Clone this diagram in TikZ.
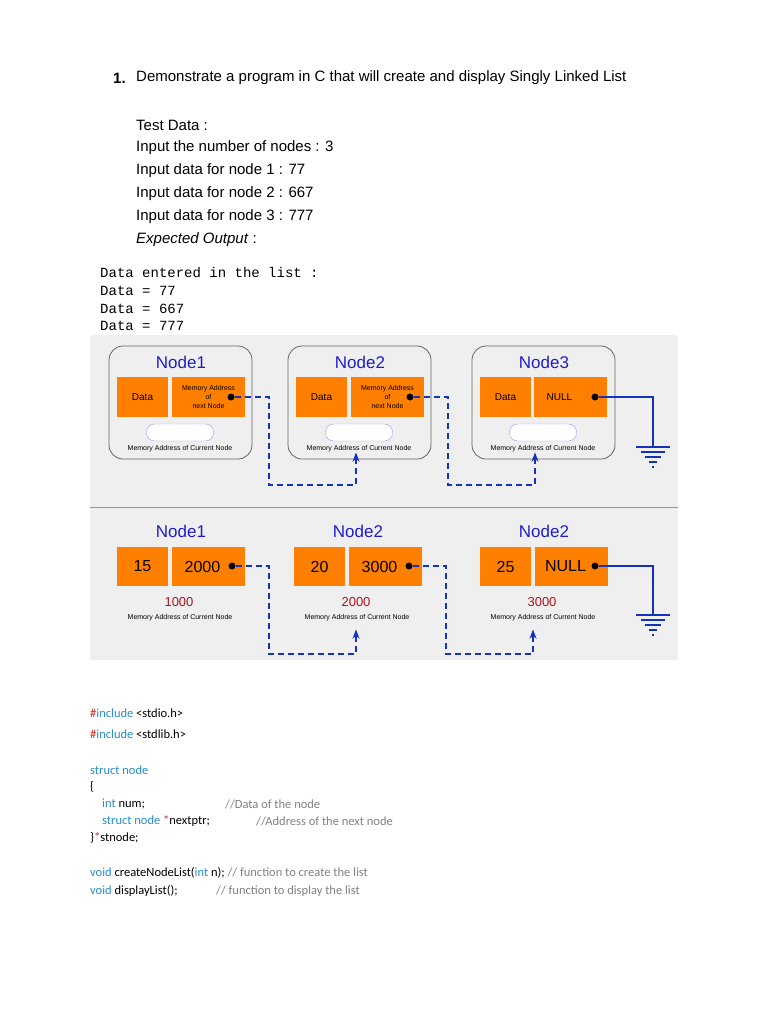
\documentclass[tikz,border=0pt]{standalone}
\usepackage{fontspec}
\setmainfont{Liberation Sans}
\newfontfamily\codefont{Carlito}
\newfontfamily\monofont{Liberation Mono}
\usetikzlibrary{arrows.meta}
\definecolor{cellorange}{RGB}{255,128,0}
\definecolor{nodeblue}{RGB}{30,30,200}
\definecolor{linkblue}{RGB}{20,50,190}
\definecolor{addrred}{RGB}{170,20,30}
\definecolor{kwblue}{RGB}{40,140,200}
\definecolor{cmtgray}{RGB}{130,130,130}
\definecolor{hashred}{RGB}{210,40,40}
\definecolor{panelgray}{RGB}{240,239,239}
\newcommand{\kw}[1]{\textcolor{kwblue}{#1}}
\newcommand{\cmt}[1]{\textcolor{cmtgray}{#1}}
\begin{document}
\begin{tikzpicture}
        [
            x=1pt, y=-1pt, >=Stealth,
            line/.style = {anchor=west, inner sep=0pt, font=\fontsize{15}{18}\selectfont},
            mono/.style = {anchor=west, inner sep=0pt, font=\monofont\fontsize{14}{16}\selectfont},
            code/.style = {anchor=west, inner sep=0pt, font=\codefont\fontsize{12.5}{14}\selectfont},
            frame/.style = {draw=gray!80!black, rounded corners=14pt, line width=0.8pt},
            title/.style = {text=nodeblue, font=\fontsize{17}{20}\selectfont, inner sep=0pt},
            cell/.style = {fill=cellorange, inner sep=0pt, align=center},
            pill/.style = {draw=blue!40, fill=white, rounded corners=8pt, minimum width=67pt, minimum height=17pt},
            caption/.style = {font=\fontsize{7}{8}\selectfont, inner sep=0pt},
            dot/.style = {circle, fill=black, inner sep=0pt, minimum size=7pt},
            link/.style = {draw=linkblue, dashed, dash pattern=on 6pt off 4pt, line width=1.4pt},
            nullwire/.style = {draw=linkblue, line width=1.4pt}
        ]
        \useasboundingbox (0,0) rectangle (768,1024);
        \fill[white] (0,0) rectangle (768,1024);
        % task text
        \node[line, font=\bfseries\fontsize{15}{18}\selectfont] (num) at (113,78) {1.};
        \node[line] (task) at (136,78) {Demonstrate a program in C that will create and display Singly Linked List};
        \node[line] (test) at (136,125) {Test Data :};
        \node[line] (in0) at (136,148) {Input the number of nodes : 3};
        \node[line] (in1) at (136,171) {Input data for node 1 : 77};
        \node[line] (in2) at (136,194) {Input data for node 2 : 667};
        \node[line] (in3) at (136,217) {Input data for node 3 : 777};
        \node[line] (exp) at (136,240) {\textit{Expected Output} :};
        \node[mono] (out0) at (100,273) {Data entered in the list :};
        \node[mono] (out1) at (100,291) {Data = 77};
        \node[mono] (out2) at (100,309) {Data = 667};
        \node[mono] (out3) at (100,326) {Data = 777};
        % panel
        \fill[panelgray] (90,335) rectangle (678,660);
        \draw[red!60, line width=0.6pt] (90,507) -- (678,507);
        % upper row
        \foreach \i/\x/\t in {1/181/Node1, 2/360/Node2, 3/544/Node3} {
            \draw[frame] (\x-72,346) rectangle (\x+71,459);
            \node[title] (t\i) at (\x,362) {\t};
            \node[cell, minimum width=51pt, minimum height=40pt, font=\fontsize{10}{12}\selectfont] (d\i) at (\x-38.5,397) {Data};
            \node[pill] (p\i) at (\x-1,432.5) {};
            \node[caption] (m\i) at (\x-1,449) {Memory Address of Current Node};
        }
        \foreach \i/\x in {1/181, 2/360} {
            \node[cell, minimum width=73pt, minimum height=40pt, font=\fontsize{7}{9}\selectfont] (a\i) at (\x+27.5,397) {Memory Address\\of\\next Node};
            \node[dot] (k\i) at (\x+50,397) {};
        }
        \node[cell, minimum width=73pt, minimum height=40pt, font=\fontsize{10}{12}\selectfont] (a3) at (570.5,397) {NULL\hspace{22pt}};
        \node[dot] (k3) at (595,397) {};
        \coordinate (g1) at (653,447);
        \draw[link, ->] (k1) -| (269,485) -| (m2.south -| 356,0);
        \draw[link, ->] (k2) -| (448,485) -| (m3.south -| 535,0);
        \draw[nullwire] (k3) -| (g1);
        \foreach \j/\w in {0/17,1/12,2/8,3/4,4/1}
            \draw[linkblue, line width=1.2pt] ([xshift=-\w pt, yshift=-5*\j pt]g1) -- ([xshift=\w pt, yshift=-5*\j pt]g1);
        % lower row
        \foreach \i/\x/\t/\v/\p/\r in {4/181/Node1/15/2000/1000, 5/358/Node2/20/3000/2000, 6/544/Node2/25/NULL/3000} {
            \node[title] (t\i) at (\x,531) {\t};
            \node[cell, minimum width=51pt, minimum height=39pt, font=\fontsize{16}{18}\selectfont] (d\i) at (\x-38.5,566.5) {\v};
            \node[cell, minimum width=73pt, minimum height=39pt, font=\fontsize{16}{18}\selectfont] (a\i) at (\x+27.5,566.5) {\p\hspace{12pt}};
            \node[dot] (k\i) at (\x+51,566) {};
            \node[font=\fontsize{13}{15}\selectfont, text=addrred, inner sep=0pt] (r\i) at (\x-2,602) {\r};
            \node[caption] (m\i) at (\x-1,618) {Memory Address of Current Node};
        }
        \coordinate (g2) at (653,615);
        \draw[link, ->] (k4) -| (269,654) -| ([yshift=-8pt]m5.south -| 356,0);
        \draw[link, ->] (k5) -| (446,654) -| ([yshift=-8pt]m6.south -| 533,0);
        \draw[nullwire] (k6) -| (g2);
        \foreach \j/\w in {0/17,1/12,2/8,3/4,4/1}
            \draw[linkblue, line width=1.2pt] ([xshift=-\w pt, yshift=-5*\j pt]g2) -- ([xshift=\w pt, yshift=-5*\j pt]g2);
        % code
        \node[code] (c1) at (90,713) {\textcolor{hashred}{\#}\kw{include} <stdio.h>};
        \node[code] (c2) at (90,734) {\textcolor{hashred}{\#}\kw{include} <stdlib.h>};
        \node[code] (c3) at (90,770) {\kw{struct node}};
        \node[code] (c4) at (90,787) {\{};
        \node[code] (c5) at (102,804) {\kw{int} num;};
        \node[code] (c5c) at (225,804) {\cmt{//Data of the node}};
        \node[code] (c6) at (102,821) {\kw{struct node} \textcolor{hashred}{*}nextptr;};
        \node[code] (c6c) at (256,821) {\cmt{//Address of the next node}};
        \node[code] (c7) at (90,838) {\}\textcolor{hashred}{*}stnode;};
        \node[code] (c8) at (90,873) {\kw{void} createNodeList(\kw{int} n); \cmt{// function to create the list}};
        \node[code] (c9) at (90,891) {\kw{void} displayList();};
        \node[code] (c9c) at (216,891) {\cmt{// function to display the list}};
\end{tikzpicture}
\end{document}
